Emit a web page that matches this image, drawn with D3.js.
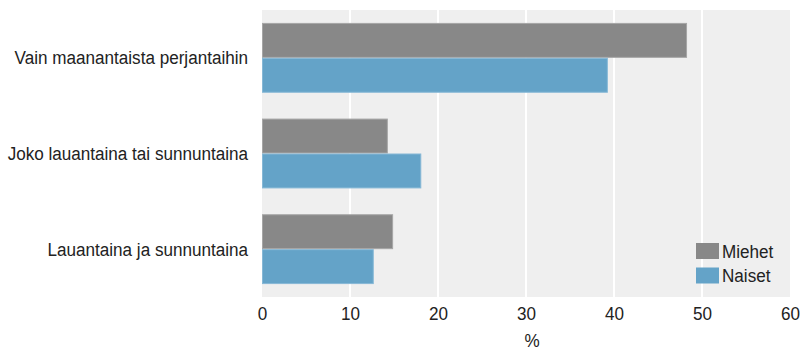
<!DOCTYPE html>
<html>
<head>
<meta charset="utf-8">
<script src="https://cdn.jsdelivr.net/npm/d3@7"></script>
<style>
  body { margin: 0; background: #fff; }
  text { font-family: "Liberation Sans Narrow", "Arial Narrow", "Liberation Sans", sans-serif; fill: #222; }
</style>
</head>
<body>
<svg width="803" height="350"></svg>
<script>
// Data
var categories = ["Vain maanantaista perjantaihin", "Joko lauantaina tai sunnuntaina", "Lauantaina ja sunnuntaina"];
var seriesNames = ["Miehet", "Naiset"];
var miehet = [48.3, 14.3, 14.9];
var naiset = [39.3, 18.1, 12.7];
var xTicks = [0, 10, 20, 30, 40, 50, 60];

var colors = { "Miehet": "#888888", "Naiset": "#64a3c8" };
var strokes = { "Miehet": "#a6a6a6", "Naiset": "#86b8d6" };

// condensed look: squeeze text horizontally
var squeeze = "scale(0.9,1)";

var svg = d3.select("svg"),
	plotLeft = 262, plotRight = 790, plotTop = 10, plotBottom = 297;

var xScale = d3.scaleLinear().domain([0, 60]).range([plotLeft, plotRight]);
var yScale = d3.scaleBand().domain(categories).range([plotTop, plotBottom]).paddingInner(0.27).paddingOuter(0.135);
var ySub = d3.scaleBand().domain(seriesNames).range([0, yScale.bandwidth()]);

// background
svg.append("rect")
	.attr("x", plotLeft).attr("y", plotTop)
	.attr("width", plotRight - plotLeft).attr("height", plotBottom - plotTop)
	.attr("fill", "#efefef");

// gridlines
svg.append("g").selectAll("line")
	.data(xTicks.slice(1, -1))
	.enter().append("line")
	.attr("x1", d => xScale(d)).attr("x2", d => xScale(d))
	.attr("y1", plotTop).attr("y2", plotBottom)
	.attr("stroke", "#fff").attr("stroke-width", 2);

// bars
var rows = [];
categories.forEach(function(c, i) {
	rows.push({ cat: c, s: "Miehet", v: miehet[i] });
	rows.push({ cat: c, s: "Naiset", v: naiset[i] });
});

svg.append("g").selectAll("rect")
	.data(rows)
	.enter().append("rect")
	.attr("x", xScale(0) + 0.5)
	.attr("y", d => yScale(d.cat) + ySub(d.s) + 0.5)
	.attr("width", d => xScale(d.v) - xScale(0) - 1)
	.attr("height", ySub.bandwidth() - 1)
	.attr("fill", d => colors[d.s])
	.attr("stroke", d => strokes[d.s])
	.attr("stroke-width", 1);

// y labels
svg.append("g").selectAll("g")
	.data(categories)
	.enter().append("g")
	.attr("transform", d => "translate(248," + (yScale(d) + yScale.bandwidth() / 2) + ")")
	.append("text")
	.attr("transform", squeeze)
	.attr("dy", "0.35em")
	.attr("text-anchor", "end")
	.attr("font-size", 19)
	.text(d => d);

// x axis
var xAxis = svg.append("g")
	.attr("transform", "translate(0," + plotBottom + ")")
	.call(d3.axisBottom(xScale).tickValues(xTicks).tickSize(0).tickPadding(10));
xAxis.select(".domain").remove();
xAxis.attr("font-family", null);
xAxis.selectAll("text")
	.attr("transform", squeeze)
	.attr("font-size", 19)
	.attr("fill", "#222");

svg.append("g")
	.attr("transform", "translate(532,347)")
	.append("text")
	.attr("transform", squeeze)
	.attr("text-anchor", "middle")
	.attr("font-size", 19)
	.text("%");

// legend
var legend = svg.append("g").selectAll("g")
	.data(seriesNames)
	.enter().append("g")
	.attr("transform", (d, i) => "translate(696," + (243 + i * 24.5) + ")");
legend.append("rect")
	.attr("width", 23).attr("height", 16)
	.attr("fill", d => colors[d]);
legend.append("g")
	.attr("transform", "translate(26,8)")
	.append("text")
	.attr("transform", squeeze)
	.attr("dy", "0.35em")
	.attr("font-size", 19)
	.text(d => d);
</script>
</body>
</html>
